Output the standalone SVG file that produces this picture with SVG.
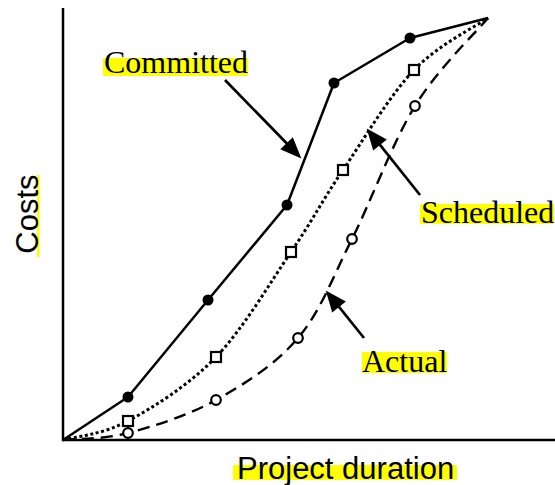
<svg xmlns="http://www.w3.org/2000/svg" width="555" height="485" viewBox="0 0 555 485">
  <style>
    .axis { stroke: #000; stroke-width: 2.5; fill: none; }
    .committed { stroke: #000; stroke-width: 2.5; fill: none; stroke-linejoin: round; }
    .scheduled { stroke: #000; stroke-width: 3; fill: none; stroke-dasharray: 3 2.6; }
    .actual { stroke: #000; stroke-width: 2.4; fill: none; stroke-dasharray: 12 7; }
    .pointer { stroke: #000; stroke-width: 2.7; fill: none; marker-end: url(#arrow); }
    .hl { fill: #ffff00; }
    .lbl { font-family: "Liberation Serif", "Times New Roman", serif; font-size: 32px; fill: #000; }
    .ttl { font-family: "Liberation Sans", Arial, sans-serif; font-size: 31px; fill: #000; }
    .dot { fill: #000; }
    .sq { fill: #fff; stroke: #000; stroke-width: 2.2; }
    .ring { fill: #fff; stroke: #000; stroke-width: 2.2; }
  </style>
  <defs>
    <marker id="arrow" markerUnits="userSpaceOnUse" markerWidth="30" markerHeight="30" viewBox="-12 -10 24 20" refX="0" refY="0" orient="auto">
      <path d="M8,0 L-9,-7 L-9,7 Z" fill="#000"/>
    </marker>
  </defs>

  <rect width="555" height="485" fill="#fff"/>

  <!-- axes -->
  <g id="axes">
    <path class="axis" d="M63,8 L63,440 L555,440"/>
  </g>

  <!-- axis titles -->
  <g id="title-x">
    <rect class="hl" x="233" y="465" width="224" height="15"/>
    <text class="ttl" x="237" y="479">Project duration</text>
  </g>
  <g id="title-y">
    <rect class="hl" x="37" y="175" width="2.5" height="82"/>
    <text class="ttl" transform="translate(37.5,214) rotate(-90)" text-anchor="middle">Costs</text>
  </g>

  <!-- curves -->
  <g id="curve-committed">
    <path class="committed" d="M63,440 L128,397 L208,300 L287,205 L334,83 L410,38 L488,18"/>
    <circle class="dot" cx="128" cy="397" r="5.5"/>
    <circle class="dot" cx="208" cy="300" r="5.5"/>
    <circle class="dot" cx="287" cy="205" r="5.5"/>
    <circle class="dot" cx="334" cy="83" r="5.5"/>
    <circle class="dot" cx="410" cy="38" r="5.5"/>
  </g>

  <g id="curve-scheduled">
    <path class="scheduled" d="M63,440 C73.8,436.8 102.5,434.8 128,421 C153.5,407.2 188.8,385.2 216,357 C243.2,328.8 269.8,283.2 291,252 C312.2,220.8 322.5,200.3 343,170 C363.5,139.7 389.8,95.3 414,70 C438.2,44.7 475.7,26.7 488,18"/>
    <rect class="sq" x="123" y="416" width="10" height="10"/>
    <rect class="sq" x="211" y="352" width="10" height="10"/>
    <rect class="sq" x="286" y="247" width="10" height="10"/>
    <rect class="sq" x="338" y="165" width="10" height="10"/>
    <rect class="sq" x="409" y="65" width="10" height="10"/>
  </g>

  <g id="curve-actual">
    <path class="actual" d="M63,440 C73.8,438.8 102.5,439.7 128,433 C153.5,426.3 187.7,415.8 216,400 C244.3,384.2 275.3,364.8 298,338 C320.7,311.2 332.5,277.7 352,239 C371.5,200.3 392.3,142.8 415,106 C437.7,68.8 475.8,32.7 488,18"/>
    <circle class="ring" cx="128" cy="433" r="4.8"/>
    <circle class="ring" cx="216" cy="400" r="4.8"/>
    <circle class="ring" cx="298" cy="338" r="4.8"/>
    <circle class="ring" cx="352" cy="239" r="4.8"/>
    <circle class="ring" cx="415" cy="106" r="4.8"/>
  </g>

  <!-- callout labels -->
  <g id="label-committed">
    <rect class="hl" x="103" y="58" width="145" height="18"/>
    <text class="lbl" x="104" y="73">Committed</text>
  </g>
  <g id="label-scheduled">
    <rect class="hl" x="420" y="204" width="134" height="20"/>
    <text class="lbl" x="421" y="223">Scheduled</text>
  </g>
  <g id="label-actual">
    <rect class="hl" x="362" y="352" width="85" height="21"/>
    <text class="lbl" x="362" y="372">Actual</text>
  </g>

  <!-- pointer arrows -->
  <g id="connectors">
    <line class="pointer" x1="225" y1="80" x2="294.4" y2="151.3"/>
    <line class="pointer" x1="420" y1="195" x2="373" y2="136.2"/>
    <line class="pointer" x1="364" y1="338" x2="332" y2="298.2"/>
  </g>
</svg>
